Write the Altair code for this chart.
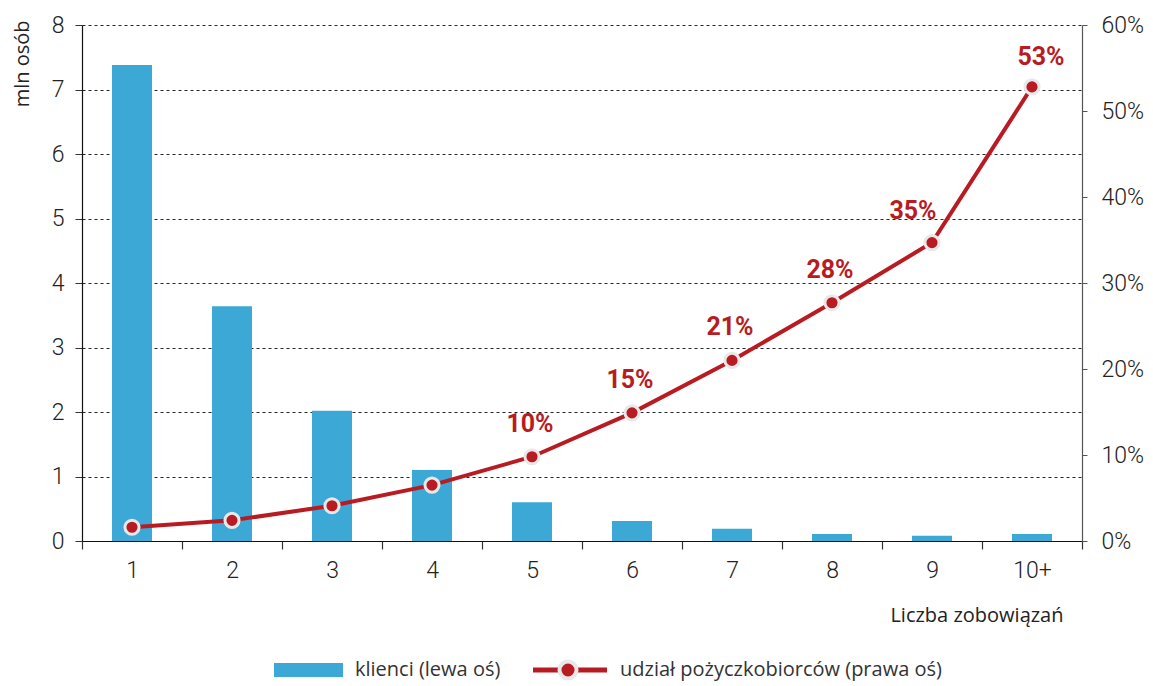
import altair as alt
import pandas as pd

categories = ["1", "2", "3", "4", "5", "6", "7", "8", "9", "10+"]
clients_mln = [7.38, 3.64, 2.02, 1.10, 0.60, 0.31, 0.19, 0.11, 0.08, 0.11]
borrower_share = [0.016, 0.024, 0.041, 0.065, 0.098, 0.149, 0.210, 0.277, 0.347, 0.528]
share_labels = ["", "", "", "", "10%", "15%", "21%", "28%", "35%", "53%"]
legend_labels = ["klienci (lewa oś)", "udział pożyczkobiorców (prawa oś)"]
left_ticks = [0, 1, 2, 3, 4, 5, 6, 7, 8]
right_ticks = [0, 0.1, 0.2, 0.3, 0.4, 0.5, 0.6]

BLUE = "#3ba8d5"
RED = "#b81c22"
HALO = "#e8e8e8"
NUM_FONT = "Roboto"
TXT_FONT = "Open Sans"

df = pd.DataFrame({"cat": categories, "clients": clients_mln,
                   "share": borrower_share, "label": share_labels})

x_enc = alt.X(
    "cat:N", sort=categories,
    scale=alt.Scale(paddingInner=0, paddingOuter=0),
    axis=alt.Axis(
        title="Liczba zobowiązań", labelAngle=0, tickBand="extent",
        domainColor="#111", domainWidth=1.2, tickColor="#333", tickSize=8, tickWidth=1.2,
        labelFont=NUM_FONT, labelFontSize=23, labelFontWeight=300, labelColor="#222",
        labelPadding=10,
        titleFont=TXT_FONT, titleFontSize=20, titleFontWeight="normal", titleColor="#222",
        titleAnchor="end", titleAlign="right", titleBaseline="middle",
        titleX=981, titleY=74,
    ),
)

bars = alt.Chart(df).mark_bar(color=BLUE, size=40).encode(
    x=x_enc,
    y=alt.Y("clients:Q", scale=alt.Scale(domain=[0, 8], nice=False),
            axis=alt.Axis(
                title="mln osób", values=left_ticks, grid=True,
                gridDash=[3, 3], gridColor="#000", gridWidth=1, gridOpacity=0.85,
                domainColor="#111", domainWidth=1.2, tickColor="#333", tickSize=7,
                labelFont=NUM_FONT, labelFontSize=23, labelFontWeight=300, labelColor="#222",
                labelPadding=11,
                titleFont=TXT_FONT, titleFontSize=20, titleFontWeight="normal",
                titleColor="#222", titleAngle=-90, titleAlign="right",
                titleBaseline="alphabetic", titleX=-54, titleY=-5,
            )),
)

y_right = alt.Y("share:Q", scale=alt.Scale(domain=[0, 0.6], nice=False),
                axis=alt.Axis(
                    orient="right", format=".0%", values=right_ticks, grid=False,
                    title=None, domainColor="#555", domainWidth=1.2, tickColor="#555",
                    tickSize=5, labelFont=NUM_FONT, labelFontSize=23, labelFontWeight=300,
                    labelColor="#222", labelPadding=14,
                ))

line = alt.Chart(df).mark_line(color=RED, strokeWidth=4).encode(x=x_enc, y=y_right)
points = alt.Chart(df).mark_circle(color=RED, stroke=HALO, strokeWidth=3, size=200,
                                   opacity=1).encode(x=x_enc, y=y_right)

text_style = dict(color=RED, font=NUM_FONT, fontWeight="bold", fontSize=25)
texts_mid = alt.Chart(df).transform_filter(
    (alt.datum.cat != "9") & (alt.datum.cat != "10+")
).mark_text(dy=-33, dx=-2, **text_style).encode(x=x_enc, y=y_right, text="label:N")
texts_left = alt.Chart(df).transform_filter(alt.datum.cat == "9").mark_text(
    dy=-32, dx=-19, **text_style).encode(x=x_enc, y=y_right, text="label:N")
texts_right = alt.Chart(df).transform_filter(alt.datum.cat == "10+").mark_text(
    dy=-30, dx=9, **text_style).encode(x=x_enc, y=y_right, text="label:N")

right = alt.layer(line, points, texts_mid, texts_left, texts_right)

one = alt.Data(values=[{"k": 1}])
LEG_Y = 645
leg_rect = alt.Chart(one).mark_rect(color=BLUE).encode(
    x=alt.value(192), x2=alt.value(261), y=alt.value(LEG_Y - 7), y2=alt.value(LEG_Y + 7))
leg_t1 = alt.Chart(one).mark_text(align="left", baseline="middle", font=TXT_FONT,
                                  fontSize=20, color="#333").encode(
    x=alt.value(273), y=alt.value(LEG_Y), text=alt.value(legend_labels[0]))
leg_rule = alt.Chart(one).mark_rule(color=RED, strokeWidth=5).encode(
    x=alt.value(451), x2=alt.value(525), y=alt.value(LEG_Y))
leg_pt = alt.Chart(one).mark_circle(color=RED, stroke=HALO, strokeWidth=4, size=290,
                                    opacity=1).encode(x=alt.value(486), y=alt.value(LEG_Y))
leg_t2 = alt.Chart(one).mark_text(align="left", baseline="middle", font=TXT_FONT,
                                  fontSize=20, color="#333").encode(
    x=alt.value(538), y=alt.value(LEG_Y), text=alt.value(legend_labels[1]))

chart = alt.layer(bars, right, leg_rect, leg_t1, leg_rule, leg_pt, leg_t2).resolve_scale(
    y="independent"
).properties(
    width=1000, height=516,
    padding={"left": 74, "top": 17, "right": 63, "bottom": 150},
    autosize=alt.AutoSizeParams(type="none"),
).configure_view(stroke=None)

chart.save("out.html", embed_options={"renderer": "svg", "actions": False})
